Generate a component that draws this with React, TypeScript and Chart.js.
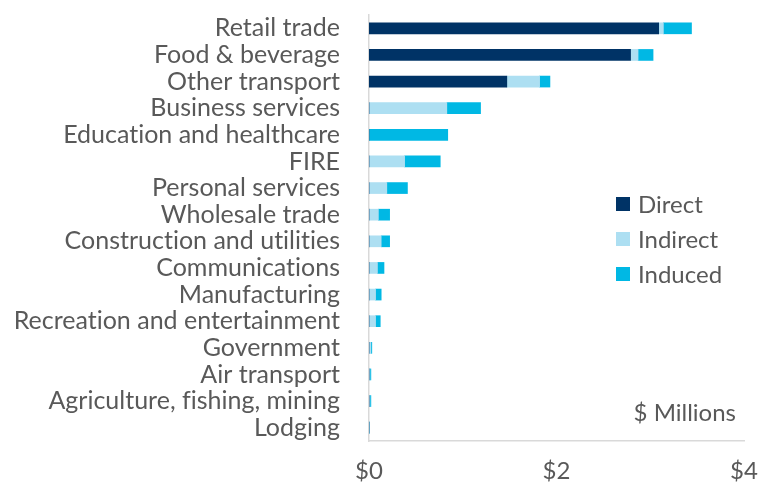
import React, { useEffect, useRef } from "react";
import { Chart, registerables } from "chart.js";

Chart.register(...registerables);

const categories = [
  "Retail trade",
  "Food & beverage",
  "Other transport",
  "Business services",
  "Education and healthcare",
  "FIRE",
  "Personal services",
  "Wholesale trade",
  "Construction and utilities",
  "Communications",
  "Manufacturing",
  "Recreation and entertainment",
  "Government",
  "Air transport",
  "Agriculture, fishing, mining",
  "Lodging",
];

const directValues = [3.09, 2.79, 1.47, 0, 0, 0, 0, 0, 0, 0, 0, 0, 0, 0, 0, 0];
const indirectValues = [0.05, 0.08, 0.35, 0.83, 0, 0.38, 0.19, 0.1, 0.13, 0.09, 0.07, 0.07, 0.02, 0.01, 0.01, 0.005];
const inducedValues = [0.3, 0.16, 0.11, 0.36, 0.84, 0.38, 0.22, 0.12, 0.09, 0.07, 0.06, 0.05, 0.01, 0.01, 0.01, 0];

const seriesNames = ["Direct", "Indirect", "Induced"];
const seriesColors = ["#003366", "#ADDFF2", "#00B8E4"];
const xTicks = [0, 2, 4];
const unitLabel = "$ Millions";

const FONT = "Lato, 'Open Sans', sans-serif";
const TEXT = "#595959";

// break typographic ligatures (fi, ti) so glyphs match the reference
const noLig = (s: string) => s.replace(/([ft])(?=[il])/g, "$1\u200C");

const overlayPlugin = {
  id: "overlay",
  afterDraw(chart: any) {
    const ctx = chart.ctx;
    ctx.save();
    ctx.font = `24px ${FONT}`;
    ctx.textBaseline = "middle";
    ctx.textAlign = "left";
    const ys = [204, 239, 274];
    seriesNames.forEach((name, i) => {
      ctx.fillStyle = seriesColors[i];
      ctx.fillRect(616, ys[i] - 7, 14, 14);
      ctx.fillStyle = TEXT;
      ctx.fillText(name, 638, ys[i] + 1);
    });
    ctx.textAlign = "right";
    ctx.fillText(unitLabel, 736, 413);
    ctx.restore();
  },
};

export default function App() {
  const ref = useRef<HTMLCanvasElement>(null);
  useEffect(() => {
    const mk = (data: number[], i: number) => ({
      label: seriesNames[i],
      data,
      backgroundColor: seriesColors[i],
      borderWidth: 0,
      barThickness: 11,
    });
    const chart = new Chart(ref.current!, {
      type: "bar",
      data: {
        labels: categories,
        datasets: [mk(directValues, 0), mk(indirectValues, 1), mk(inducedValues, 2)],
      },
      options: {
        indexAxis: "y",
        animation: false,
        responsive: false,
        maintainAspectRatio: false,
        layout: { padding: { left: 0, right: 21, top: 13, bottom: 0 } },
        plugins: { legend: { display: false }, tooltip: { enabled: false } },
        scales: {
          x: {
            stacked: true,
            min: 0,
            max: 4,
            afterBuildTicks: (s: any) => {
              s.ticks = xTicks.map((v) => ({ value: v }));
            },
            afterFit: (s: any) => {
              s.height = 48;
            },
            grid: { display: false, drawTicks: true, tickLength: 16 },
            border: { display: true, color: "#D9D9D9", width: 1.5 },
            ticks: {
              color: TEXT,
              font: { family: FONT, size: 24 },
              padding: 0,
              callback: (v: any) => "$" + v,
            },
          },
          y: {
            stacked: true,
            afterFit: (s: any) => {
              s.width = 369;
            },
            grid: { display: false, drawTicks: true, tickLength: 29 },
            border: { display: true, color: "#D9D9D9", width: 1.5 },
            ticks: {
              color: TEXT,
              font: { family: FONT, size: 25 },
              padding: 0,
              autoSkip: false,
              callback: (_v: any, i: number) => noLig(categories[i]),
            },
          },
        },
      },
      plugins: [overlayPlugin],
    });
    return () => chart.destroy();
  }, []);
  return (
    <div style={{ position: "fixed", left: 0, top: 0, width: 765, height: 489, background: "#fff" }}>
      <canvas ref={ref} width={765} height={489} style={{ width: 765, height: 489 }} />
    </div>
  );
}
